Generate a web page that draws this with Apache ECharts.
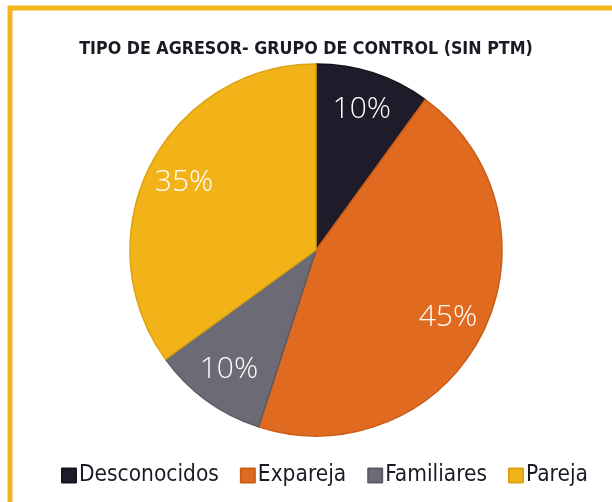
<!DOCTYPE html>
<html>
<head>
<meta charset="utf-8">
<script src="https://cdn.jsdelivr.net/npm/echarts@6/dist/echarts.min.js"></script>
<style>
  html, body { margin: 0; padding: 0; background: #ffffff; }
  #chart { width: 612px; height: 502px; }
</style>
</head>
<body>
<div id="chart"></div>
<script>
// datos
const categories = ["Desconocidos", "Expareja", "Familiares", "Pareja"];
const values = [10, 45, 10, 35];
const colors = ["#1e1b2b", "#e06a1f", "#6c6a75", "#f1b318"];
const edgeColors = ["#15131f", "#c95c17", "#5c5a64", "#dba312"];

const font = "'DejaVu Sans Condensed', 'Liberation Sans Narrow', sans-serif";
const center = [316, 250];
const R = 186;

const pieData = categories.map((name, i) => ({
    name: name,
    value: values[i],
    itemStyle: { color: colors[i], borderColor: edgeColors[i], borderWidth: 1.5 },
}));

const chart = echarts.init(document.getElementById("chart"));
chart.setOption({
    animation: false,
    backgroundColor: "#ffffff",
    graphic: [
        {
            type: "rect",
            shape: { x: 10, y: 8, width: 700, height: 600 },
            style: { fill: "none", stroke: "#f5b41e", lineWidth: 5 },
            silent: true,
        },
    ],
    title: {
        text: "TIPO DE AGRESOR- GRUPO DE CONTROL (SIN PTM)",
        left: 301,
        textAlign: "center",
        top: 35,
        textStyle: { fontFamily: font, fontWeight: "bold", fontSize: 17.7, color: "#1a1a24" },
    },
    legend: {
        data: categories,
        top: 459,
        left: 56,
        itemWidth: 14,
        itemHeight: 14,
        itemGap: 21,
        icon: "rect",
        textStyle: { fontFamily: font, fontSize: 22.5, color: "#1a1a24", padding: [0, 0, 0, -2] },
    },
    series: [
        {
            type: "pie",
            center: center,
            radius: R,
            startAngle: 90,
            clockwise: true,
            data: pieData,
            label: { show: false },
            labelLine: { show: false },
            emphasis: { disabled: true },
        },
        {
            // capa solo para colocar los porcentajes hacia el borde
            type: "pie",
            center: center,
            radius: [R * 0.56, R],
            startAngle: 90,
            clockwise: true,
            silent: true,
            data: categories.map((name, i) => ({ name: name, value: values[i] })),
            itemStyle: { color: "rgba(0,0,0,0)" },
            label: {
                show: true,
                position: "inside",
                formatter: "{c}%",
                fontFamily: "'Open Sans', sans-serif",
                fontWeight: 300,
                fontSize: 30,
                color: "#ffffff",
            },
            labelLine: { show: false },
            emphasis: { disabled: true },
        },
    ],
});
</script>
</body>
</html>
